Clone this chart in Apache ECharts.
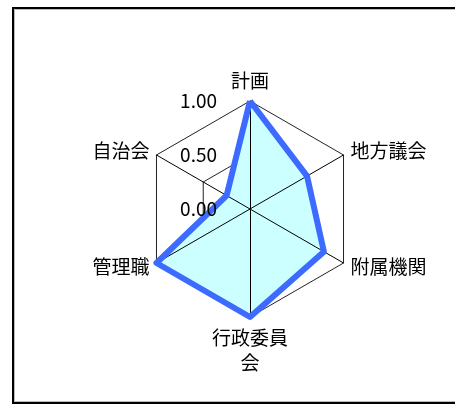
<!DOCTYPE html>
<html>
<head>
<meta charset="utf-8">
<script src="https://cdn.jsdelivr.net/npm/echarts@6/dist/echarts.min.js"></script>
<style>
  html, body { margin: 0; padding: 0; background: #fff; }
  #chart { width: 455px; height: 412px; }
</style>
</head>
<body>
<div id="chart"></div>
<script>
// clockwise from the top
const categories = ['計画', '地方議会', '附属機関', '行政委員会', '管理職', '自治会']
const values = [1.0, 0.61, 0.79, 1.0, 1.0, 0.25]
const tickValues = [0, 0.5, 1]

const font = "'Noto Sans CJK JP', sans-serif"
const center = [250, 209]
const radius = 108

// echarts lays radar axes out counter-clockwise, so walk the list backwards after the first
const order = [0, ...categories.map((_, i) => i).slice(1).reverse()]
const indicator = order.map(i => ({
  name: categories[i],
  min: tickValues[0],
  max: tickValues[tickValues.length - 1],
}))
const seriesValues = order.map(i => values[i])

const radarBase = {
  center,
  radius,
  startAngle: 90,
  shape: 'polygon',
  splitNumber: tickValues.length - 1,
  indicator,
}

const chart = echarts.init(document.getElementById('chart'))

chart.setOption({
  animation: false,
  graphic: [
    {
      type: 'rect',
      shape: { x: 13, y: 8, width: 480, height: 395 },
      style: { fill: 'none', stroke: '#000', lineWidth: 2 },
      silent: true,
    },
    {
      type: 'rect',
      shape: { x: 14.5, y: 9.5, width: 480, height: 392 },
      style: { fill: 'none', stroke: '#bbb', lineWidth: 1 },
      silent: true,
    },
  ],
  radar: [
    // grid rings + names, under the fill
    {
      ...radarBase,
      nameGap: 8,
      axisName: {
        color: '#000',
        fontFamily: font,
        fontSize: 19,
        lineHeight: 25,
        formatter: v => v.length > 4 ? v.slice(0, 4) + '\n' + v.slice(4) : v,
      },
      splitLine: { lineStyle: { color: '#222', width: 1 } },
      splitArea: { show: false },
      axisLine: { show: false },
      axisTick: { show: false },
      axisLabel: { show: false },
    },
    // spokes above the fill
    {
      ...radarBase,
      z: 3,
      axisName: { show: false },
      splitLine: { show: false },
      splitArea: { show: false },
      axisLine: { lineStyle: { color: '#000', width: 1 } },
      axisTick: { show: false },
      axisLabel: { show: false },
    },
  ],
  // scale labels along the top axis
  polar: { center, radius },
  angleAxis: { type: 'value', startAngle: 90, min: 0, max: 360, show: false },
  radiusAxis: {
    type: 'value',
    min: tickValues[0],
    max: tickValues[tickValues.length - 1],
    interval: tickValues[1] - tickValues[0],
    z: 5,
    axisLine: { show: false },
    axisTick: { show: false },
    splitLine: { show: false },
    axisLabel: {
      margin: 33,
      align: 'right',
      verticalAlign: 'middle',
      color: '#000',
      fontFamily: font,
      fontSize: 19,
      formatter: v => v.toFixed(2),
    },
  },
  series: [
    {
      type: 'radar',
      radarIndex: 0,
      z: 2,
      symbol: 'none',
      lineStyle: { width: 0, opacity: 0 },
      areaStyle: { color: '#ccffff', opacity: 1 },
      data: [{ value: seriesValues }],
    },
    {
      type: 'radar',
      radarIndex: 1,
      z: 4,
      symbol: 'none',
      lineStyle: { color: '#3d6bff', width: 6, join: 'round' },
      data: [{ value: seriesValues }],
    },
  ],
})
</script>
</body>
</html>
